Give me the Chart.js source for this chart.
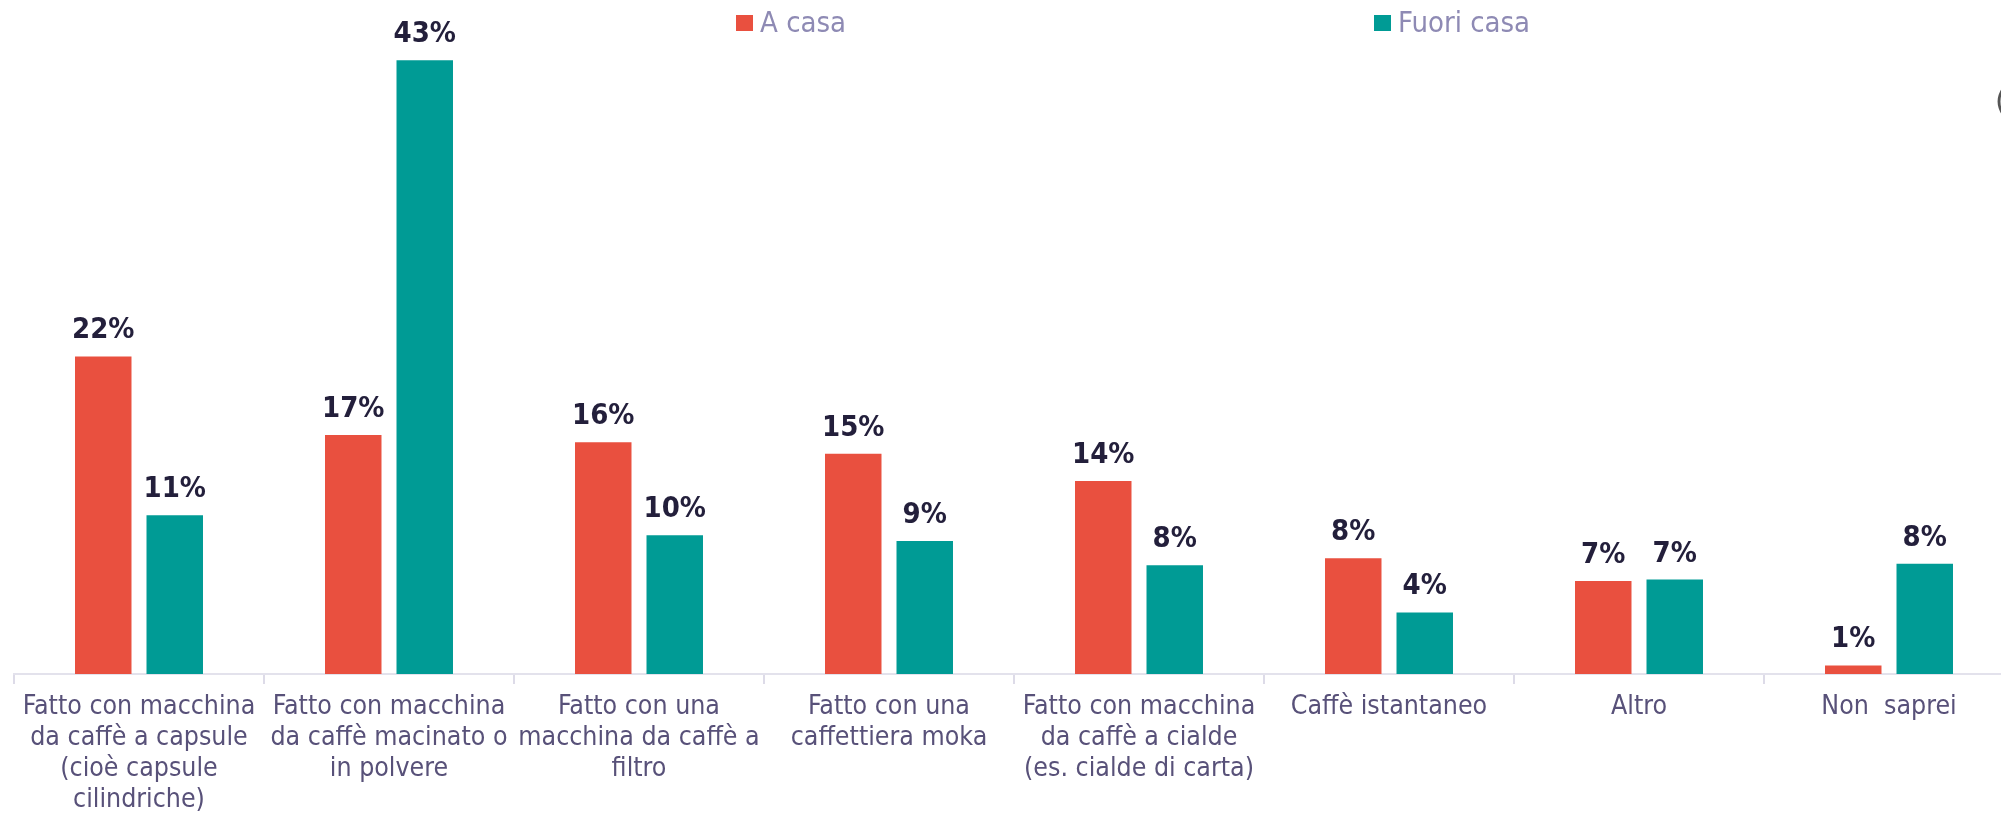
<!DOCTYPE html>
<html>
<head>
<meta charset="utf-8">
<script src="https://cdn.jsdelivr.net/npm/chart.js@4.4.1/dist/chart.umd.min.js"></script>
<style>
  html, body { margin: 0; padding: 0; background: #fff; overflow: hidden; }
  #wrap { position: relative; width: 2001px; height: 814px; overflow: hidden; }
  canvas { position: absolute; left: 0; top: 0; }
  .legend-item { position: absolute; top: 0; font-family: 'DejaVu Sans Condensed', 'DejaVu Sans', sans-serif;
    font-size: 29px; color: #8e8ab4; line-height: 1; white-space: nowrap; }
  .legend-item span.box { position: absolute; left: 0; top: 15px; width: 17px; height: 16px; }
  .legend-item span.txt { position: absolute; left: 24px; top: 8px; }
  #edge { position: absolute; left: 1995px; top: 83px; font-family: 'DejaVu Sans', sans-serif;
    font-size: 30px; color: #555; }
</style>
</head>
<body>
<div id="wrap">
  <canvas id="chart" width="2030" height="814"></canvas>
  <div class="legend-item" style="left:736px"><span class="box" style="background:#e9503f"></span><span class="txt">A casa</span></div>
  <div class="legend-item" style="left:1374px"><span class="box" style="background:#009b95"></span><span class="txt">Fuori casa</span></div>
  <div id="edge">(</div>
</div>
<script>
const categories = [
  ['Fatto con macchina', 'da caffè a capsule', '(cioè capsule', 'cilindriche)'],
  ['Fatto con macchina', 'da caffè macinato o', 'in polvere'],
  ['Fatto con una', 'macchina da caffè a', 'filtro'],
  ['Fatto con una', 'caffettiera moka'],
  ['Fatto con macchina', 'da caffè a cialde', '(es. cialde di carta)'],
  'Caffè istantaneo',
  'Altro',
  'Non  saprei'
]
const aCasa = [22.2, 16.7, 16.2, 15.4, 13.5, 8.1, 6.5, 0.6]
const fuoriCasa = [11.1, 42.9, 9.7, 9.3, 7.6, 4.3, 6.6, 7.7]
const aCasaLabels = ['22%', '17%', '16%', '15%', '14%', '8%', '7%', '1%']
const fuoriCasaLabels = ['11%', '43%', '10%', '9%', '8%', '4%', '7%', '8%']

const FONT = "'DejaVu Sans Condensed', 'DejaVu Sans', sans-serif"

// value labels above each bar
const barLabels = {
  id: 'barLabels',
  afterDatasetsDraw(chart) {
    const ctx = chart.ctx
    ctx.save()
    ctx.font = 'bold 29px ' + FONT
    ctx.fillStyle = '#231f3b'
    ctx.textAlign = 'center'
    ctx.textBaseline = 'alphabetic'
    chart.data.datasets.forEach((ds, i) => {
      chart.getDatasetMeta(i).data.forEach((bar, j) => {
        ctx.fillText(ds.valueLabels[j], bar.x, bar.y - 18)
      })
    })
    ctx.restore()
  }
}

new Chart(document.getElementById('chart'), {
  type: 'bar',
  data: {
    labels: categories,
    datasets: [
      { label: 'A casa', data: aCasa, valueLabels: aCasaLabels, backgroundColor: '#e9503f' },
      { label: 'Fuori casa', data: fuoriCasa, valueLabels: fuoriCasaLabels, backgroundColor: '#009b95' }
    ]
  },
  options: {
    responsive: false,
    animation: false,
    devicePixelRatio: 1,
    categoryPercentage: 0.572,
    barPercentage: 0.79,
    layout: { padding: { left: 14, right: 16, top: 16, bottom: 0 } },
    plugins: { legend: { display: false }, tooltip: { enabled: false } },
    scales: {
      x: {
        grid: { display: true, drawOnChartArea: false, drawTicks: true, tickLength: 10, color: '#dddbe8', lineWidth: 2, offset: true },
        border: { display: true, color: '#e3e2ec', width: 2 },
        ticks: {
          color: '#585179',
          padding: 7,
          maxRotation: 0,
          autoSkip: false,
          font: { family: FONT, size: 26.5, lineHeight: 1.18 }
        },
        afterFit: s => { s.height = 140 }
      },
      y: { display: false, min: 0, max: 46 }
    }
  },
  plugins: [barLabels]
})
</script>
</body>
</html>
